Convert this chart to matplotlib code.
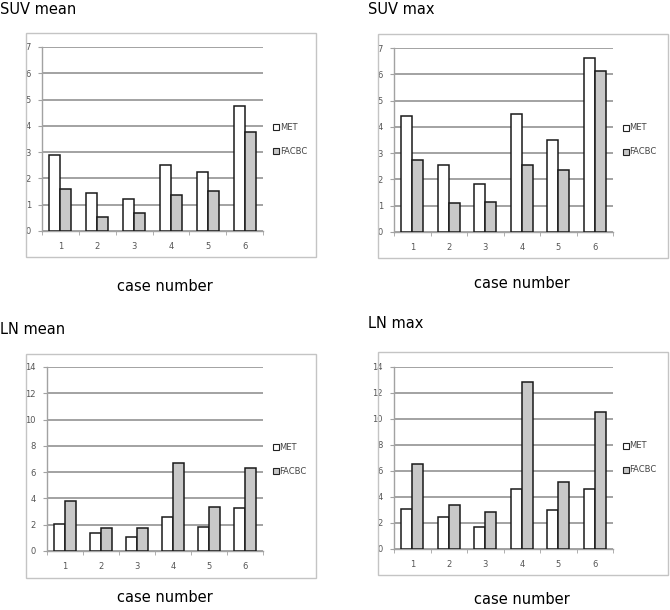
import matplotlib
matplotlib.use("Agg")
import matplotlib.pyplot as plt
from matplotlib.patches import Rectangle, Patch

W, H = 670, 610

cases = [1, 2, 3, 4, 5, 6]
series_names = ["MET", "FACBC"]

suv_mean_met = [2.91, 1.44, 1.20, 2.52, 2.24, 4.76]
suv_mean_facbc = [1.60, 0.53, 0.70, 1.36, 1.53, 3.77]
suv_max_met = [4.41, 2.56, 1.81, 4.49, 3.50, 6.62]
suv_max_facbc = [2.74, 1.09, 1.13, 2.56, 2.36, 6.12]
ln_mean_met = [2.03, 1.37, 1.07, 2.59, 1.85, 3.28]
ln_mean_facbc = [3.81, 1.75, 1.75, 6.66, 3.35, 6.35]
ln_max_met = [3.07, 2.50, 1.66, 4.65, 3.00, 4.65]
ln_max_facbc = [6.52, 3.40, 2.81, 12.83, 5.14, 10.53]

fig = plt.figure(figsize=(W / 100, H / 100), dpi=100)


def frac(x0, y0, x1, y1):
    # pixel box (top-left origin) -> figure fraction rect
    return [x0 / W, 1 - y1 / H, (x1 - x0) / W, (y1 - y0) / H]


def panel(title, tpos, xlab_pos, box, area, met, facbc, ymax, ystep):
    # grey frame around the chart
    bx = frac(*box)
    fig.add_artist(Rectangle((bx[0], bx[1]), bx[2], bx[3], transform=fig.transFigure,
                             fill=False, edgecolor="#c4c4c4", lw=1.0))
    fig.text(tpos[0] / W, 1 - tpos[1] / H, title, fontsize=10.5, ha="left", va="center")
    fig.text(xlab_pos[0] / W, 1 - xlab_pos[1] / H, "case number", fontsize=10.5,
             ha="center", va="center")

    ax = fig.add_axes(frac(*area))
    w = 0.3
    xs = list(range(1, len(cases) + 1))
    ax.bar([x - w / 2 for x in xs], met, width=w, color="white", edgecolor="#1a1a1a",
           lw=1.1, zorder=3)
    ax.bar([x + w / 2 for x in xs], facbc, width=w, color="#c8c8c8", edgecolor="#1a1a1a",
           lw=1.1, zorder=3)
    ax.set_xlim(0.5, len(cases) + 0.5)
    ax.set_ylim(0, ymax)
    ax.set_yticks(range(0, ymax + 1, ystep))
    ax.yaxis.grid(True, color="#a2a2a2", lw=1.4, zorder=0)
    ax.set_xticks(xs)
    ax.set_xticklabels([str(c) for c in cases])
    ax.set_xticks([x + 0.5 for x in range(len(cases) + 1)], minor=True)
    ax.tick_params(axis="x", which="major", length=0, pad=8, labelsize=6, labelcolor="#555555")
    ax.tick_params(axis="x", which="minor", length=3, color="#a2a2a2")
    ax.tick_params(axis="y", length=3, color="#a2a2a2", labelsize=6, labelcolor="#555555", pad=5)
    for s in ["top", "right"]:
        ax.spines[s].set_visible(False)
    for s in ["left", "bottom"]:
        ax.spines[s].set_color("#a2a2a2")
        ax.spines[s].set_linewidth(1.0)

    handles = [Patch(facecolor="white", edgecolor="#222222", lw=0.8),
               Patch(facecolor="#c8c8c8", edgecolor="#222222", lw=0.8)]
    leg = ax.legend(handles, series_names, loc="center left", bbox_to_anchor=(1.03, 0.5),
                    frameon=False, fontsize=6, handlelength=0.7, handleheight=0.7,
                    handletextpad=0.1, labelspacing=1.8, borderaxespad=0)
    for t in leg.get_texts():
        t.set_color("#444444")
    return ax


panel("SUV mean", (0, 9), (165, 287), (26, 33, 316, 257), (42, 47, 263, 231),
      suv_mean_met, suv_mean_facbc, 7, 1)
panel("SUV max", (368, 9), (522, 283), (378, 34, 668, 258), (394, 48, 613, 232),
      suv_max_met, suv_max_facbc, 7, 1)
panel("LN mean", (0, 330), (165, 598), (26, 354, 316, 578), (47, 367, 263, 551),
      ln_mean_met, ln_mean_facbc, 14, 2)
panel("LN max", (368, 324), (522, 600), (378, 352, 668, 575), (394, 367, 613, 549),
      ln_max_met, ln_max_facbc, 14, 2)

fig.savefig("out.png", dpi=100)
